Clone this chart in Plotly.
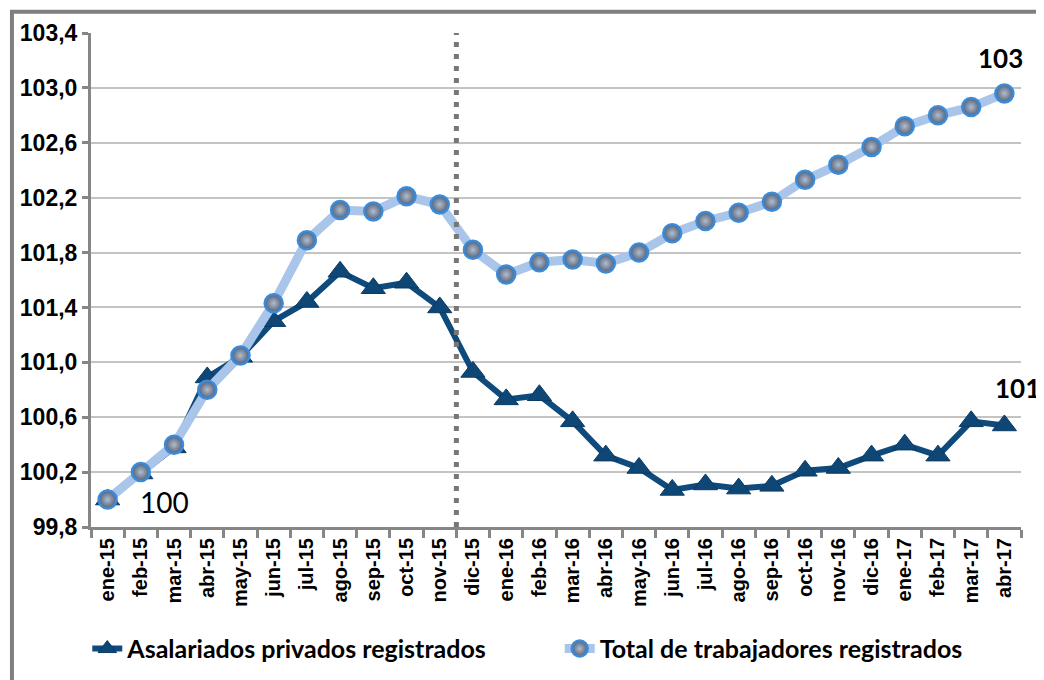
import plotly.graph_objects as go

months = ["ene-15", "feb-15", "mar-15", "abr-15", "may-15", "jun-15", "jul-15", "ago-15",
          "sep-15", "oct-15", "nov-15", "dic-15", "ene-16", "feb-16", "mar-16", "abr-16",
          "may-16", "jun-16", "jul-16", "ago-16", "sep-16", "oct-16", "nov-16", "dic-16",
          "ene-17", "feb-17", "mar-17", "abr-17"]

asalariados = [100.00, 100.19, 100.38, 100.89, 101.04, 101.30, 101.44, 101.66,
               101.54, 101.58, 101.40, 100.93, 100.73, 100.76, 100.57, 100.32,
               100.23, 100.07, 100.11, 100.08, 100.10, 100.21, 100.23, 100.32,
               100.40, 100.32, 100.57, 100.54]

total = [100.00, 100.20, 100.40, 100.80, 101.05, 101.43, 101.89, 102.11,
         102.10, 102.21, 102.15, 101.82, 101.64, 101.73, 101.75, 101.72,
         101.80, 101.94, 102.03, 102.09, 102.17, 102.33, 102.44, 102.57,
         102.72, 102.80, 102.86, 102.96]

y_ticks = [99.8, 100.2, 100.6, 101.0, 101.4, 101.8, 102.2, 102.6, 103.0, 103.4]

name_asal = "Asalariados privados registrados"
name_total = "Total de trabajadores registrados"

fig = go.Figure()

fig.add_trace(go.Scatter(
    x=months, y=asalariados, name=name_asal, mode="lines+markers",
    line=dict(color="#0F4A7C", width=6),
    marker=dict(symbol="triangle-up", size=21, color="#0E4776",
                line=dict(color="#0A3A62", width=1)),
    cliponaxis=False, legend="legend",
))

fig.add_trace(go.Scatter(
    x=months, y=total, name=name_total, mode="lines+markers",
    line=dict(color="#AAC5EA", width=9),
    marker=dict(symbol="circle", size=18, color="#4F5F7A",
                gradient=dict(type="radial", color="#B2BDCC"),
                line=dict(color="#3A8CDB", width=2.5)),
    cliponaxis=False, legend="legend2",
))

# dotted divider between nov-15 and dic-15
fig.add_shape(type="line", xref="x", yref="y", x0=10.5, x1=10.5, y0=99.8, y1=103.4,
              line=dict(color="#777777", width=5, dash="5px,7px"), layer="above")

# outer frame
fig.add_shape(type="rect", xref="paper", yref="paper", x0=-0.085, x1=1.2, y0=-0.5, y1=1.043,
              line=dict(color="#7F7F7F", width=4), layer="below")

fig.add_annotation(x=1.7, y=99.98, text="100", showarrow=False,
                   font=dict(family="Lato", size=28, color="#000000"))
fig.add_annotation(x=26.88, y=103.22, text="<b>103</b>", showarrow=False,
                   font=dict(family="Lato", size=26, color="#000000"))
fig.add_annotation(x=27.4, y=100.81, text="<b>101</b>", showarrow=False,
                   font=dict(family="Lato", size=26, color="#000000"))

legend_font = dict(family="Lato", size=25, color="#000000", weight="bold")

fig.update_layout(
    width=1044, height=680,
    margin=dict(l=83, r=31, t=25, b=161, autoexpand=False),
    paper_bgcolor="white", plot_bgcolor="white",
    separators=",.",
    showlegend=True,
    legend=dict(orientation="h", x=-0.004, xanchor="left", y=-0.2, yanchor="top",
                font=legend_font, itemwidth=30, bgcolor="rgba(0,0,0,0)"),
    legend2=dict(orientation="h", x=0.504, xanchor="left", y=-0.2, yanchor="top",
                 font=legend_font, itemwidth=30, bgcolor="rgba(0,0,0,0)"),
    xaxis=dict(type="category", tickson="boundaries", ticks="outside", ticklen=8,
               tickwidth=3, tickcolor="#868686", showline=True, linecolor="#868686",
               linewidth=3, showgrid=False, tickangle=-90, automargin=False,
               tickfont=dict(family="Liberation Sans", size=20, color="#000000", weight="bold"),
               range=[-0.5, 27.5]),
    yaxis=dict(range=[99.8, 103.4], tickvals=y_ticks, tickformat=".1f",
               ticks="outside", ticklen=6, tickwidth=3, tickcolor="#868686",
               showline=True, linecolor="#868686", linewidth=3, automargin=False,
               showgrid=True, gridcolor="#C4C4C4", gridwidth=2, zeroline=False,
               tickfont=dict(family="Liberation Sans", size=23, color="#000000", weight="bold")),
)

fig.write_html("out.html")
